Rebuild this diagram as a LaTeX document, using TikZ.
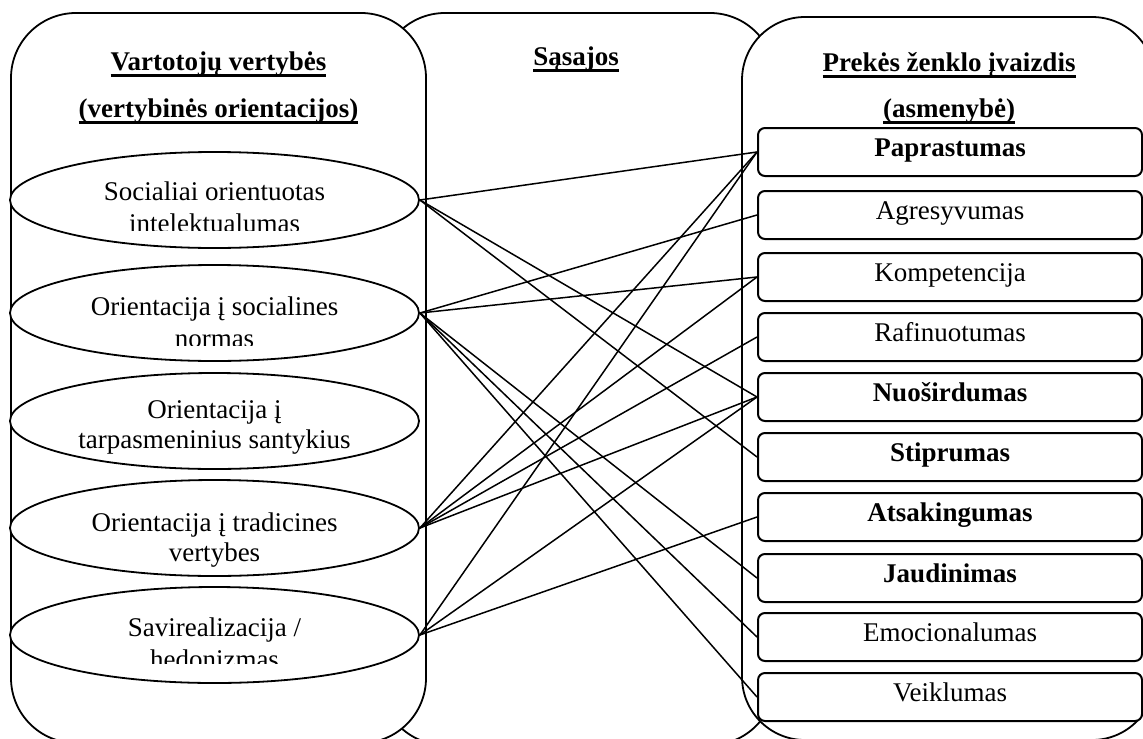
\documentclass[tikz,border=0pt]{standalone}
\usepackage{fontspec}
\setmainfont{Liberation Serif}
\usetikzlibrary{shapes.geometric}

% underlined heading text with a fixed rule position
\newcommand{\hdrule}[1]{\setbox0=\hbox{#1}\rlap{\rule[-2.8pt]{\wd0}{1.1pt}}\box0}

\begin{document}
\begin{tikzpicture}[x=0.5pt,y=-0.5pt,
  font=\fontsize{13.5}{15.5}\selectfont,
  panel/.style={draw,line width=0.9pt,fill=white,rectangle,rounded corners=32.5pt,inner sep=0pt},
  valueoval/.style={draw,line width=0.9pt,fill=white,ellipse,minimum width=204.5pt,minimum height=48pt,inner sep=0pt},
  trait/.style={draw,line width=1pt,fill=white,rectangle,rounded corners=3.5pt,minimum width=192pt,minimum height=24pt,inner sep=0pt,text height=7.5pt,text depth=3pt},
  traitbold/.style={trait,font=\fontsize{13.5}{15.5}\selectfont\bfseries},
  heading/.style={anchor=base,inner sep=0pt,font=\fontsize{13.5}{15.5}\selectfont\bfseries},
  ovaltext/.style={anchor=base,inner sep=0pt},
  link/.style={line width=0.75pt}
]
\useasboundingbox (0,0) rectangle (1143,738);
\clip (0,0) rectangle (1143,738);

% three columns
\node[panel,minimum width=197.5pt,minimum height=366pt] (links) at (577.5,379) {};
\node[panel,minimum width=207.5pt,minimum height=365pt] (values) at (218.5,378) {};
\node[panel,minimum width=206.5pt,minimum height=361.5pt,rounded corners=31.5pt] (image) at (948.5,378.5) {};

% column headings
\node[heading] (h1) at (218.5,71) {\hdrule{Vartotojų vertybės}};
\node[heading] (h2) at (218.5,118) {\hdrule{(vertybinės orientacijos)}};
\node[heading] (h3) at (576,66) {\hdrule{Sąsajos}};
\node[heading] (h4) at (949,72) {\hdrule{Prekės ženklo įvaizdis}};
\node[heading] (h5) at (949,118) {\hdrule{(asmenybė)}};

% value orientations
\node[valueoval] (v1) at (214.5,200) {};
\begin{scope}
  \clip (0,150) rectangle (430,230);
  \node[ovaltext] (v1a) at (214.5,200) {Socialiai orientuotas};
  \node[ovaltext] (v1b) at (214.5,232) {intelektualumas};
\end{scope}

\node[valueoval] (v2) at (214.5,313) {};
\begin{scope}
  \clip (0,263) rectangle (430,345);
  \node[ovaltext] (v2a) at (214.5,315) {Orientacija į socialines};
  \node[ovaltext] (v2b) at (214.5,347) {normas};
\end{scope}

\node[valueoval] (v3) at (214.5,421) {};
\node[ovaltext] (v3a) at (214.5,418) {Orientacija į};
\node[ovaltext] (v3b) at (214.5,448) {tarpasmeninius santykius};

\node[valueoval] (v4) at (214.5,528) {};
\node[ovaltext] (v4a) at (214.5,531) {Orientacija į tradicines};
\node[ovaltext] (v4b) at (214.5,561) {vertybes};

\node[valueoval] (v5) at (214.5,635) {};
\begin{scope}
  \clip (0,585) rectangle (430,663);
  \node[ovaltext] (v5a) at (214.5,636) {Savirealizacija /};
  \node[ovaltext] (v5b) at (214.5,668) {hedonizmas};
\end{scope}

% brand personality traits
\node[traitbold] (t1) at (950,152) {Paprastumas};
\node[trait]     (t2) at (950,215) {Agresyvumas};
\node[trait]     (t3) at (950,277) {Kompetencija};
\node[trait]     (t4) at (950,337) {Rafinuotumas};
\node[traitbold] (t5) at (950,397) {Nuoširdumas};
\node[traitbold] (t6) at (950,457) {Stiprumas};
\node[traitbold] (t7) at (950,517) {Atsakingumas};
\node[traitbold] (t8) at (950,578) {Jaudinimas};
\node[trait]     (t9) at (950,637) {Emocionalumas};
\node[trait]     (t10) at (950,697) {Veiklumas};

% links between values and traits
\draw[link] (v1.east) -- (t1.west);
\draw[link] (v1.east) -- (t5.west);
\draw[link] (v1.east) -- (t6.west);
\draw[link] (v2.east) -- (t2.west);
\draw[link] (v2.east) -- (t3.west);
\draw[link] (v2.east) -- (t8.west);
\draw[link] (v2.east) -- (t9.west);
\draw[link] (v2.east) -- (t10.west);
\draw[link] (v4.east) -- (t1.west);
\draw[link] (v4.east) -- (t3.west);
\draw[link] (v4.east) -- (t4.west);
\draw[link] (v4.east) -- (t5.west);
\draw[link] (v5.east) -- (t1.west);
\draw[link] (v5.east) -- (t5.west);
\draw[link] (v5.east) -- (t7.west);
\end{tikzpicture}
\end{document}
